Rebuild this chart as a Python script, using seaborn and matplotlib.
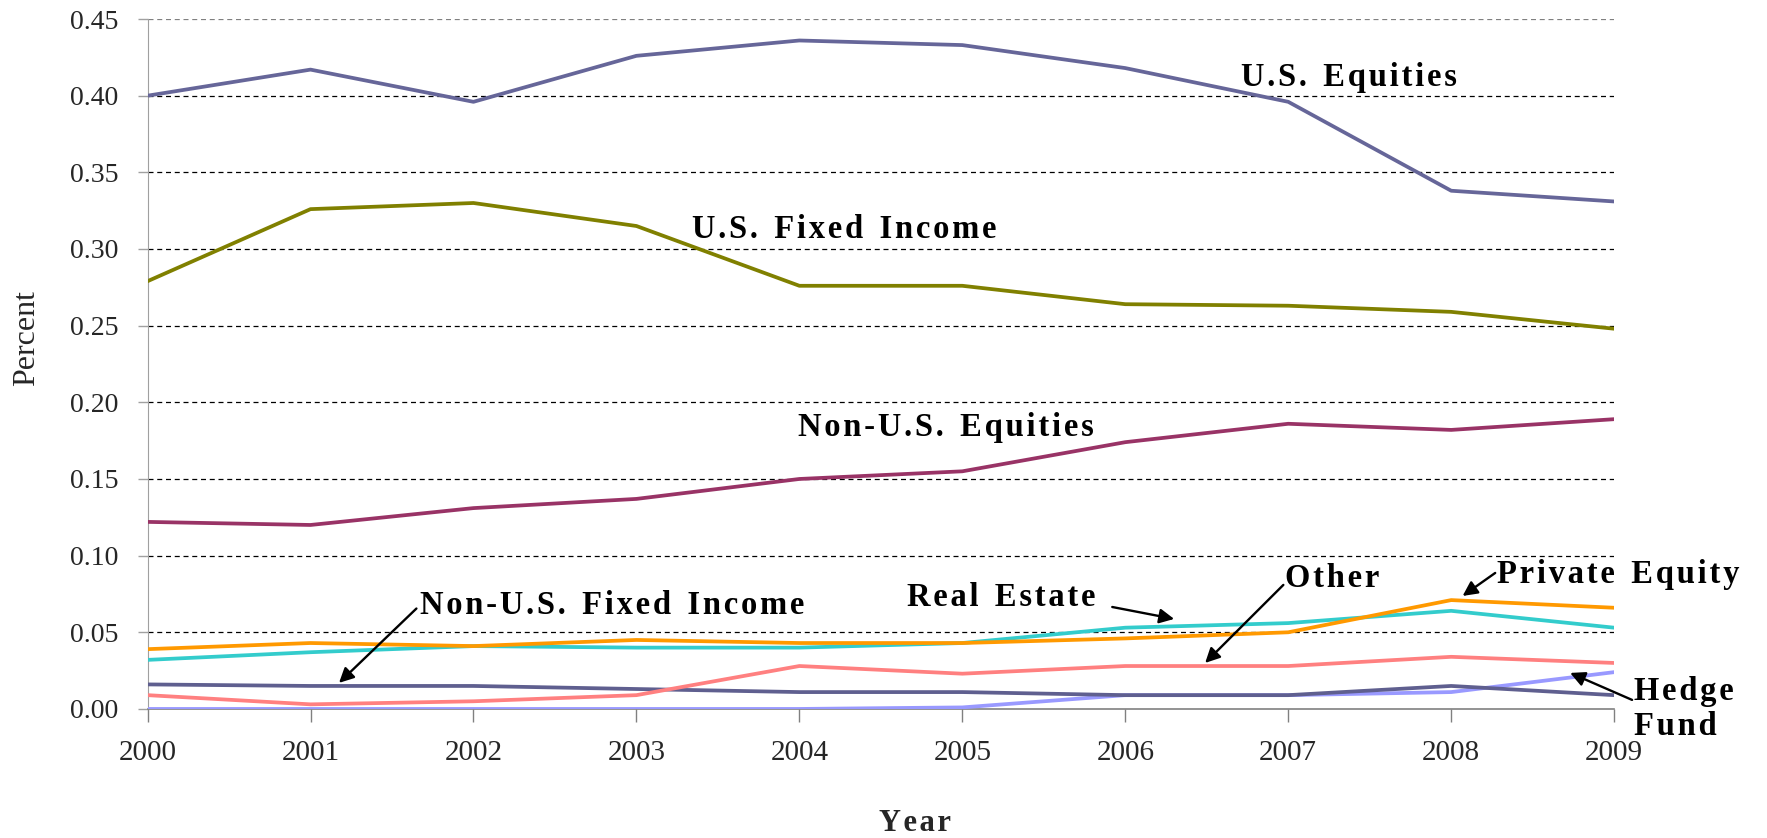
import pandas as pd
import seaborn as sns
import matplotlib.pyplot as plt

# data
years = list(range(2000, 2010))
us_equities = [0.400, 0.417, 0.396, 0.426, 0.436, 0.433, 0.418, 0.396, 0.338, 0.331]
us_fixed_income = [0.279, 0.326, 0.330, 0.315, 0.276, 0.276, 0.264, 0.263, 0.259, 0.248]
non_us_equities = [0.122, 0.120, 0.131, 0.137, 0.150, 0.155, 0.174, 0.186, 0.182, 0.189]
private_equity = [0.039, 0.043, 0.041, 0.045, 0.043, 0.043, 0.046, 0.050, 0.071, 0.066]
real_estate = [0.032, 0.037, 0.041, 0.040, 0.040, 0.043, 0.053, 0.056, 0.064, 0.053]
other = [0.009, 0.003, 0.005, 0.009, 0.028, 0.023, 0.028, 0.028, 0.034, 0.030]
non_us_fixed_income = [0.016, 0.015, 0.015, 0.013, 0.011, 0.011, 0.009, 0.009, 0.015, 0.009]
hedge_fund = [0.000, 0.000, 0.000, 0.000, 0.000, 0.001, 0.009, 0.009, 0.011, 0.024]

series = {
    'U.S. Equities': us_equities,
    'U.S. Fixed Income': us_fixed_income,
    'Non-U.S. Equities': non_us_equities,
    'Private Equity': private_equity,
    'Real Estate': real_estate,
    'Other': other,
    'Non-U.S. Fixed Income': non_us_fixed_income,
    'Hedge Fund': hedge_fund,
}
colors = {
    'U.S. Equities': '#666699',
    'U.S. Fixed Income': '#808000',
    'Non-U.S. Equities': '#993366',
    'Private Equity': '#FF9900',
    'Real Estate': '#33CCCC',
    'Other': '#FF8080',
    'Non-U.S. Fixed Income': '#5F5F8F',
    'Hedge Fund': '#9999FF',
}

rows = []
for name, vals in series.items():
    for y, v in zip(years, vals):
        rows.append({'Year': y, 'Share': v, 'Asset': name})
df = pd.DataFrame(rows)

sns.set_style('white')
plt.rcParams['font.family'] = ['Liberation Serif', 'DejaVu Serif']


def spaced(s):
    # mimic the wide letter tracking of the original labels
    return '\u200a'.join(s).replace('\u200a \u200a', '\u200a \u200a\u200a')


fig = plt.figure(figsize=(17.67, 8.38), dpi=100)
ax = fig.add_axes([0.0835, 0.154, 0.83, 0.8233])

# dashed horizontal grid
for g in [0.05, 0.10, 0.15, 0.20, 0.25, 0.30, 0.35, 0.40, 0.45]:
    c = '#808080' if g == 0.45 else 'black'
    ax.axhline(g, color=c, lw=0.9, ls=(0, (4, 3)), zorder=1)

sns.lineplot(data=df, x='Year', y='Share', hue='Asset', palette=colors,
             hue_order=list(series.keys())[::-1], lw=2.7, legend=False, ax=ax, zorder=3)

ax.set_xlim(2000, 2009)
ax.set_ylim(0, 0.45)
ax.set_xticks(years)
ax.set_xticklabels([str(y) for y in years], fontsize=21)
ax.set_yticks([0.0, 0.05, 0.10, 0.15, 0.20, 0.25, 0.30, 0.35, 0.40, 0.45])
ax.set_yticklabels(['%.2f' % t for t in ax.get_yticks()], fontsize=20)
ax.tick_params(axis='x', direction='out', length=9, width=1, color='#808080', pad=13, bottom=True)
ax.tick_params(axis='y', direction='out', length=7, width=1, color='#a0a0a0', pad=14, left=True)

for s in ['top', 'right']:
    ax.spines[s].set_visible(False)
ax.spines['left'].set_color('#a0a0a0')
ax.spines['bottom'].set_color('#808080')
ax.spines['bottom'].set_linewidth(1.2)

ax.set_ylabel('Percent', fontsize=23)
ax.yaxis.set_label_coords(-0.0826, 0.538)
ax.yaxis.label.set_verticalalignment('center')
ax.set_xlabel(spaced('Year'), fontsize=22, fontweight='bold')
ax.xaxis.set_label_coords(0.523, -0.166)
ax.xaxis.label.set_verticalalignment('center')

lab = dict(fontsize=23.5, fontweight='bold', color='black')
arr = dict(arrowstyle='-|>', color='black', lw=1.7, mutation_scale=22, shrinkA=0, shrinkB=0)

ax.text(2006.71, 0.4116, spaced('U.S. Equities'), ha='left', va='center', **lab)
ax.text(2003.34, 0.313, spaced('U.S. Fixed Income'), ha='left', va='center', **lab)
ax.text(2003.99, 0.1833, spaced('Non-U.S. Equities'), ha='left', va='center', **lab)

ax.annotate('', xy=(2001.175, 0.017), xytext=(2001.65, 0.0655), arrowprops=arr)
ax.text(2001.67, 0.0672, spaced('Non-U.S. Fixed Income'), ha='left', va='center', **lab)
ax.annotate('', xy=(2006.30, 0.0587), xytext=(2005.92, 0.0665), arrowprops=arr)
ax.text(2004.66, 0.0724, spaced('Real Estate'), ha='left', va='center', **lab)
ax.annotate('', xy=(2006.49, 0.030), xytext=(2006.97, 0.0809), arrowprops=arr)
ax.text(2006.98, 0.0854, spaced('Other'), ha='left', va='center', **lab)
ax.annotate('', xy=(2008.07, 0.0737), xytext=(2008.27, 0.0887), arrowprops=arr)
ax.text(2008.28, 0.088, spaced('Private Equity'), ha='left', va='center', clip_on=False, **lab)
ax.annotate('', xy=(2008.73, 0.0235), xytext=(2009.11, 0.0059), arrowprops=arr)
ax.text(2009.12, 0.0117, spaced('Hedge'), ha='left', va='center', clip_on=False, **lab)
ax.text(2009.12, -0.0117, spaced('Fund'), ha='left', va='center', clip_on=False, **lab)

plt.savefig('out.png', dpi=100)
